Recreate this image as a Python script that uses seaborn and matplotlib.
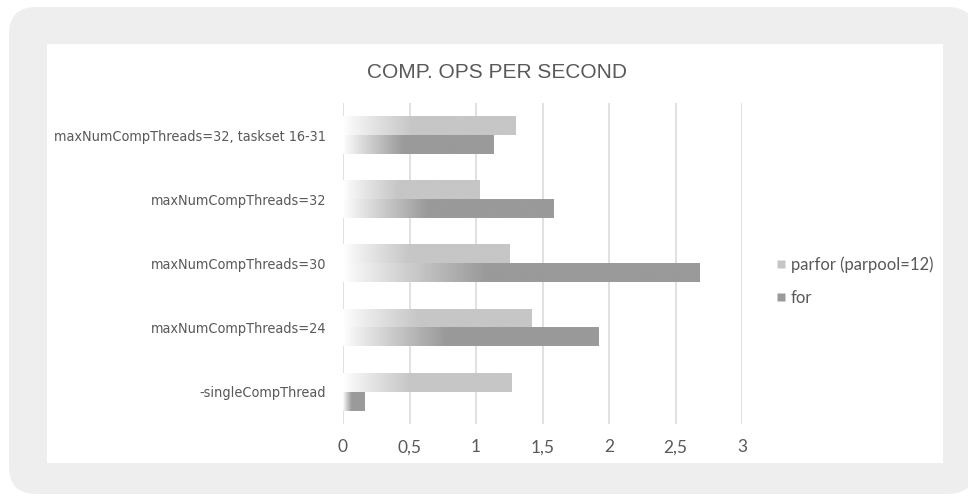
import numpy as np
import pandas as pd
import matplotlib
matplotlib.use("Agg")
import matplotlib.pyplot as plt
from matplotlib import font_manager
from matplotlib.font_manager import FontProperties
from matplotlib.patches import FancyBboxPatch, Rectangle
from matplotlib.lines import Line2D
import seaborn as sns

# Data
categories = [
    "maxNumCompThreads=32, taskset 16-31",
    "maxNumCompThreads=32",
    "maxNumCompThreads=30",
    "maxNumCompThreads=24",
    "-singleCompThread",
]
series_names = ["parfor (parpool=12)", "for"]
parfor_values = [1.30, 1.03, 1.25, 1.42, 1.27]
for_values = [1.13, 1.58, 2.68, 1.92, 0.16]
x_ticks = [0, 0.5, 1, 1.5, 2, 2.5, 3]
x_tick_labels = ["0", "0,5", "1", "1,5", "2", "2,5", "3"]
title = "COMP. OPS PER SECOND"

colors = {"parfor (parpool=12)": "#c6c6c6", "for": "#9a9a9a"}
text_gray = "#595959"

df = pd.DataFrame({
    "category": categories * 2,
    "series": [series_names[0]] * len(categories) + [series_names[1]] * len(categories),
    "value": parfor_values + for_values,
})

sns.set_theme(style="white")
plt.rcParams["font.family"] = ["Liberation Sans", "DejaVu Sans"]


def pick_narrow_font():
    """Return the path of a condensed sans face if one is installed."""
    candidates = [
        dict(family="Liberation Sans Narrow"),
        dict(family="DejaVu Sans", stretch="condensed"),
    ]
    for c in candidates:
        try:
            path = font_manager.findfont(FontProperties(**c), fallback_to_default=False)
        except Exception:
            continue
        low = path.lower()
        if "narrow" in low or "condensed" in low:
            return path
    return None


narrow_path = pick_narrow_font()

W, H = 968, 499
fig = plt.figure(figsize=(W / 100, H / 100), dpi=100, facecolor="white")

# Rounded grey card with a white panel inside
card = FancyBboxPatch((9 / W, 1 - 494 / H), (975 - 9) / W, (494 - 7) / H,
                      boxstyle="round,pad=0,rounding_size=0.028",
                      transform=fig.transFigure, facecolor="#eeeeee",
                      edgecolor="none", mutation_aspect=W / H, zorder=-3)
fig.patches.append(card)
panel = Rectangle((47 / W, 1 - 463 / H), (943 - 47) / W, (463 - 44) / H,
                  transform=fig.transFigure, facecolor="white",
                  edgecolor="none", zorder=-2)
fig.patches.append(panel)

ax_l, ax_r, ax_t, ax_b = 343, 742, 103, 424
ax = fig.add_axes([ax_l / W, 1 - ax_b / H, (ax_r - ax_l) / W, (ax_b - ax_t) / H])
ax.set_facecolor("none")

sns.barplot(data=df, x="value", y="category", hue="series", order=categories,
            hue_order=series_names, palette=colors, orient="h", width=0.58,
            gap=0, dodge=True, legend=False, ax=ax, saturation=1,
            linewidth=0, zorder=3)

# Replace flat fills with a left-to-right white-to-colour gradient
bars = [p for p in ax.patches if p.get_width() > 0]
for p in bars:
    x0, y0, w, h = p.get_x(), p.get_y(), p.get_width(), p.get_height()
    rgb = np.array(p.get_facecolor()[:3])
    n = 256
    t = np.linspace(0, 1, n)
    ramp = np.clip(t / 0.4, 0, 1) ** 0.9
    img = np.ones((1, n, 3)) * (1 - ramp)[None, :, None] + rgb[None, None, :] * ramp[None, :, None]
    ax.imshow(img, extent=[x0, x0 + w, y0 + h, y0], aspect="auto",
              interpolation="bilinear", zorder=3)
    p.set_visible(False)

ax.set_xlim(0, 3)
ax.set_ylim(len(categories) - 0.5, -0.5)
ax.set_aspect("auto")

ax.set_xticks(x_ticks)
ax.set_xticklabels(x_tick_labels, family=["Lato", "DejaVu Sans"], fontsize=12.5,
                   color=text_gray)
ax.tick_params(axis="x", length=0, pad=11)
ax.tick_params(axis="y", length=0, pad=12)
ax.set_xlabel("")
ax.set_ylabel("")
ax.grid(axis="x", color="#d9d9d9", linewidth=1.1, zorder=0)
ax.grid(axis="y", visible=False)
ax.set_axisbelow(True)
for s in ax.spines.values():
    s.set_visible(False)

# Category labels: narrow face, sized so the longest label spans ~272 px
base_size = 12.0
if narrow_path:
    ylab_font = FontProperties(fname=narrow_path, size=base_size)
else:
    ylab_font = FontProperties(family="Liberation Sans", size=base_size)
for lab in ax.get_yticklabels():
    lab.set_fontproperties(ylab_font)
    lab.set_color(text_gray)
fig.canvas.draw()
renderer = fig.canvas.get_renderer()
widest = max(lab.get_window_extent(renderer).width for lab in ax.get_yticklabels())
new_size = base_size * 272.0 / widest
for lab in ax.get_yticklabels():
    lab.set_fontsize(new_size)

fig.text(497 / W, 1 - 72 / H, title, ha="center", va="center",
         fontsize=15, color=text_gray, family=["Liberation Sans", "DejaVu Sans"])

handles = [Line2D([], [], marker="s", linestyle="none", markersize=6,
                  markerfacecolor=colors[s], markeredgecolor="none")
           for s in series_names]
leg = fig.legend(handles, series_names, loc="upper left",
                 bbox_to_anchor=(776 / W, 1 - 256 / H), frameon=False,
                 prop={"family": ["Lato", "DejaVu Sans"], "size": 12},
                 labelcolor=text_gray, handlelength=0.6, handletextpad=0.3,
                 labelspacing=1.05, borderaxespad=0, borderpad=0)

fig.savefig("out.png", dpi=100, facecolor="white")
